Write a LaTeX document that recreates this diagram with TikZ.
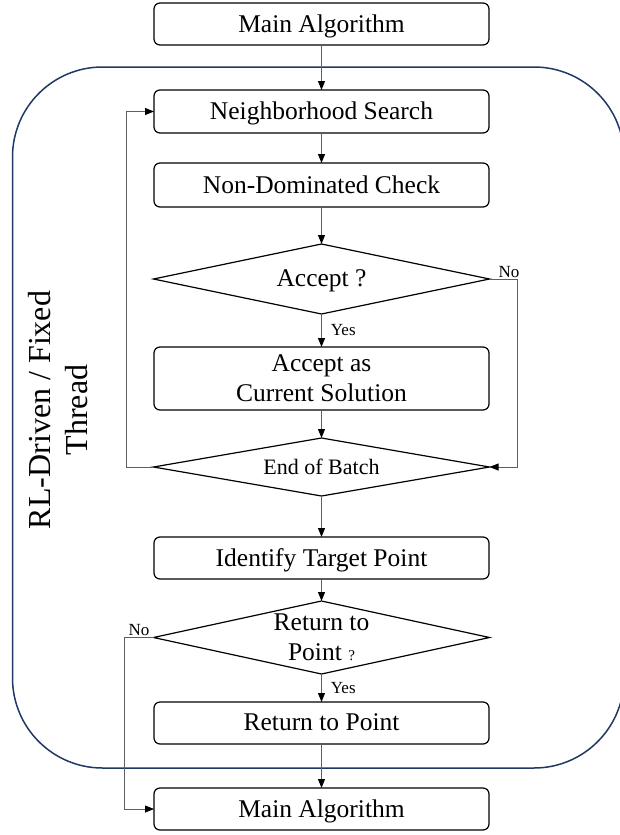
\documentclass[tikz,border=0pt]{standalone}
\usepackage{fontspec}
\setmainfont{Liberation Serif}
\usetikzlibrary{arrows.meta,positioning,shapes.geometric}
\definecolor{threadnavy}{RGB}{31,56,100}
\definecolor{linkgray}{RGB}{95,95,95}

\begin{document}
\begin{tikzpicture}[
        x=1pt, y=1pt,
        node distance=30pt,
        box/.style={draw, rounded corners=6pt, line width=1.2pt, align=center, minimum width=335pt, minimum height=43pt, inner sep=0pt, outer sep=0pt, font=\fontsize{25.5}{30}\selectfont},
        oneline/.style={text depth=1pt},
        decision/.style={draw, diamond, line width=1.2pt, minimum width=336pt, minimum height=70pt, inner sep=0pt, outer sep=0pt},
        dtext/.style={align=center, font=\fontsize{25.5}{30}\selectfont},
        framebox/.style={draw=threadnavy, line width=1.5pt, rounded corners=90pt, minimum width=611.5pt, minimum height=701pt, inner sep=0pt},
        sidetext/.style={rotate=90, align=center, font=\fontsize{32}{37}\selectfont},
        lbl/.style={font=\fontsize{17}{17}\selectfont, inner sep=1pt},
        arr/.style={draw=linkgray, line width=0.8pt, -{Triangle[length=9pt, width=7pt, color=black]}}
    ]
    \useasboundingbox (0,0) rectangle (619,-835);

    % thread frame
    \node[framebox] (frame) at (318.25,-417.5) {};
    \node[sidetext] (threadlbl) at (58,-410) {RL-Driven / Fixed\\Thread};

    \node[box, oneline, minimum height=42pt] (mainTop) at (321.5,-24) {Main Algorithm};
    \node[box, oneline, below=45pt of mainTop] (search) {Neighborhood Search};
    \node[box, oneline, minimum height=44pt, below=30pt of search] (check) {Non-Dominated Check};
    \node[decision, below=37pt of check, label={[dtext, oneline]center:Accept ?}] (accept) {};
    \node[box, minimum height=63pt, below=33pt of accept] (current) {Accept as\\Current Solution};
    \node[decision, minimum height=58pt, below=28pt of current, label={[dtext, oneline, font=\fontsize{22}{26}\selectfont]center:End of Batch}] (batch) {};
    \node[box, oneline, minimum height=42pt, below=41pt of batch] (target) {Identify Target Point};
    \node[decision, minimum height=73pt, below=22pt of target, label={[dtext]center:Return to\\Point {\fontsize{15}{15}\selectfont ?}}] (returnq) {};
    \node[box, oneline, minimum height=42pt, below=28pt of returnq] (returnbox) {Return to Point};
    \node[box, oneline, minimum height=42pt, below=44pt of returnbox] (mainBot) {Main Algorithm};

    \draw[arr] (mainTop) -- (search);
    \draw[arr] (search) -- (check);
    \draw[arr] (check) -- (accept);
    \draw[arr] (accept) -- node[right, lbl, xshift=8pt] {Yes} (current);
    \draw[arr] (current) -- (batch);
    \draw[arr] (batch) -- (target);
    \draw[arr] (target) -- (returnq);
    \draw[arr] (returnq) -- node[right, lbl, xshift=8pt] {Yes} (returnbox);
    \draw[arr] (returnbox) -- (mainBot);

    % loops
    \draw[arr] (accept.east) -- node[pos=0.7, above, lbl] {No} ++(28,0) |- (batch.east);
    \draw[arr] (batch.west) -- ++(-27,0) |- (search.west);
    \draw[arr] (returnq.west) -- node[above, lbl] {No} ++(-29,0) |- (mainBot.west);
\end{tikzpicture}
\end{document}
